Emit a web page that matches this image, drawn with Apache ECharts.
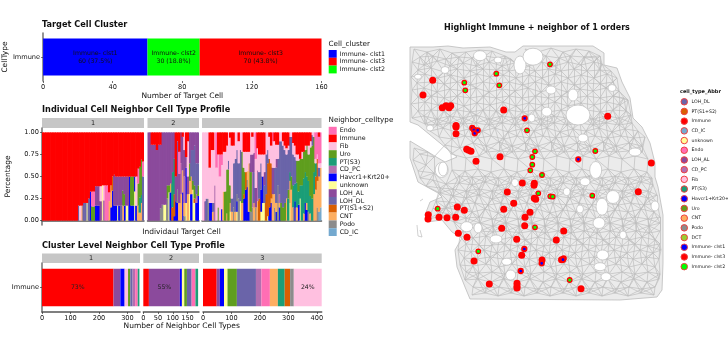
<!DOCTYPE html>
<html><head><meta charset="utf-8">
<style>html,body{margin:0;background:#fff}#c{width:728px;height:351px}</style>
<script src="https://cdn.jsdelivr.net/npm/echarts@6/dist/echarts.min.js"></script>
</head><body><div id="c"></div>
<script>
// ---------- data ----------
const clusterNames = ["Immune- clst1","Immune- clst2","Immune- clst3"];
const clusterCounts = [60,30,70];
const clusterLegend = ["Immune- clst1","Immune- clst3","Immune- clst2"];
const neighborLegend = ["Endo","Immune","Fib","Uro","PT(S3)","CD_PC","Havcr1+Krt20+","unknown","LOH_AL","LOH_DL","PT(S1+S2)","CNT","Podo","CD_IC"];
const abbrLegend = ["LOH_DL","PT(S1+S2)","Immune","CD_IC","unknown","Endo","LOH_AL","CD_PC","Fib","PT(S3)","Havcr1+Krt20+","Uro","CNT","Podo","DCT","Immune- clst1","Immune- clst3","Immune- clst2"];
const codes = {E:"Endo",I:"Immune",F:"Fib",U:"Uro",S:"PT(S3)",C:"CD_PC",H:"Havcr1+Krt20+",K:"unknown",A:"LOH_AL",D:"LOH_DL",P:"PT(S1+S2)",N:"CNT",O:"Podo",B:"CD_IC"};
const stackOrder = "IEFADUCSPNOHKB";
// percent of each neighbor type per target cell; remainder belongs to the facet's main type
const cells1 = ["","","","","","","","","","","","","","","","","","","","","",
 "D17","F17","N17","D20","D20","K20","D25","H33","U16 E17","U16 E17",
 "A22 H17","A22 H17","A22 H17","A22 F17","K40","C23 F17","E40","E40","N22 E10","N25 H15",
 "P16 H34","A35 H17","A33 H17","A33 K17","A33 H17","A33 D17","A16 U17 N17","A20 U13 H17","A33 K17","A33 K17",
 "H50","U33 H17","U33 H17","K33 H17","F33 H17","U25 E17 N17","U35 S17 N9","U40 N20 S9","D50 E17"];
const cells2 = ["","","I14","I14","I14","I20","I14","I14 O14","O18","K18",
 "K18","O25 U15","U8 K32","N10 H32","S40 P15","S40 P25 H5","I50 H22","I10 O15 H20","I22 E25 N20","C35 N30",
 "I5 H32 N25","F20 C30 N15 O5","I28 H40 K20","I10 F40 N30","U20 N15 K30","D30 H30 N20","D35 U10 K35","D45 U15 P5 K20","D35 C10 H20","D25 U12 H28"];
const cells3 = ["","C22","D25","O25","I40 H20","I20 H20","I20 D10 N10","C40","E40","I25 U15",
 "I25 E25","I25 E12 H13","I22 N33","I22 U33","I15 U50 N8","U58 D10","I6 U20 K10 N10","I15 D15 N10","I15 D50 O15","D60 N10",
 "D50 H12 K10 O8","I10 D40 O25","D58 K22","U58 N20","I22 U30 H25 P5","I22 H35 P20","I22 H38 N10 O8","I22 N55 H10","A20 U45 O10","I5 A20 C40 O15",
 "A22 D35 N20","A22 E30 O15","I18 C35 N22","I25 D30 P25","I25 D30 H25 K10","I25 H30 K20","I25 A15 D20 K20","D45 P30","D15 P60 K5","I5 H15 P55",
 "I15 H20 P40 N5","A30 E10 N30","I10 D30 N15 O15","I14 A10 D40 H10 N10","I14 D30 O40","D60 C10 H15 N5","D70 U20","I10 D70 U15","I15 D60 U20","I18 D50 N25",
 "I15 D45 S25 U10","D40 N25 K20 S10","D45 N35 U15","I12 D35 S25 O15","I15 D30 H22 S20","I25 U25 N15 S28","I25 U35 H18 S15","I30 U30 K25 S15","I22 U30 S40","I22 U30 N8 S40",
 "I15 U25 H20 S35","I15 U35 N8 H12 S30","I15 U30 S35 O10","I10 U55 N8 S20","U60 D12 S25","U40 N30 S25","E30 N35 P15 S15","E25 N30 P25 O15","E30 I5 N40 D10 B10","E35 N45 B15"];
const facetFill = ["I","A","F"];
const facetLabels = ["1","2","3"];
const bottom1 = [["I",251],["A",24],["H",15],["F",12],["U",8],["D",8],["C",9],["E",9],["S",6]];
const bottom2 = [["I",19],["A",105],["H",7],["K",8],["U",9],["D",16],["E",13],["S",9]];
const bottom3 = [["I",48],["A",11],["H",15],["K",12],["U",33],["D",67],["C",19],["E",30],["N",28],["S",24],["P",19],["O",13],["F",100]];
const bottomPct = [["I","73%"],["A","55%"],["F","24%"]];
const redDots = [[432.7,80.3],[423,95],[442.3,107.7],[446,105.7],[450.7,105.7],[449,107.7],[456,127],[456,125.5],[456,133.7],[503.7,110],[607.7,116.3],[466.7,149.3],[468.7,150.3],[471,151.3],[476,161.3],[500,156.7],[651.3,163],[522.3,183],[534.3,183.3],[534,185.3],[507.3,192],[534.3,198.3],[535.7,199.3],[638.3,191.7],[513.7,203.3],[457.3,207],[464.3,210.3],[503.7,209.3],[530,212.3],[428.3,214.7],[428,219],[439,217.3],[447,217.7],[455.7,217.3],[525,217.3],[524.7,225.7],[501.7,228.3],[563.7,231],[458.3,233.3],[467,237.3],[516.7,239.3],[556.3,240],[521.7,255.3],[474,261],[489.3,284],[517,283.3],[517,286],[517,288],[581,288.7],[542,260],[561.5,259.7]];
const greenDots = [[550,64.3],[496.3,73.7],[464.3,82.7],[465.3,90.3],[499.3,85.3],[527,130.3],[535,151.3],[532.3,157],[532.3,164.7],[595.3,151],[530.3,170.3],[542,175],[538.3,193.3],[550.3,196.3],[552.7,196.7],[592.3,195.7],[437.7,208.7],[535,227.3],[478.3,251.3],[569.7,280]];
const blueDots = [[524.7,118.3],[472.3,128],[474,130],[474.7,133.3],[477.7,130.3],[578.3,159.3],[524.3,249],[541.7,263.3],[563.7,258.3],[563,259.7],[520.7,271]];
const tissueOutline = [[410,47],[433,47],[448,46],[463,48],[490,47],[506,52],[515,52],[523,46],[560,46],[593,46],[604,53],[604,65],[617,68],[622,82],[630,98],[633,118],[642,127],[650,143],[655,163],[655,177],[658,187],[663,215],[663,263],[662,290],[657,297],[620,300],[470,299],[465,287],[457,267],[455,250],[462,238],[452,232],[442,220],[427,222],[425,215],[430,202],[442,197],[438,193],[418,182],[410,158],[410,141],[438,158],[445,162],[457,157],[418,125],[410,122]];
const holes = [[480,55.7,13,10],[520,65,12,18],[533,56.7,20,17],[546.7,111.7,10,9],[573,95,10,12],[578,115,24,20],[583,138,10,8],[635,152,12,8],[445,70,8,7],[418,76.7,7,5],[531.7,118,7,8],[441.7,170,13,15],[595.7,170,12,17],[585,181.7,10,8],[566.7,191.7,7,8],[613,197,13,13],[602,206.7,12,17],[580,209,7,8],[599,223,12,11],[655,206,8,10],[466.7,226.7,12,10],[478,228,8,10],[496,239,12,8],[623,235,7,8],[602.7,255,12,10],[506.7,261.7,10,7],[600,266.7,12,8],[510.7,275,10,10],[606,276.7,10,8],[515,182.7,7,8],[443,169,9,14],[551,90,10,8],[498,60,8,6],[612,88,8,7],[430,128,7,6]];
const meshNodes = [
414,49,427,52,440,49,452,53,466,52,479,50,492,51,505,56,525,49,538,52,551,48,563,52,576,49,589,51,600,56,
412,62,424,65,437,61,450,66,463,63,476,66,489,62,502,66,515,63,529,66,542,62,555,66,568,62,581,65,594,62,602,64,
411,77,425,74,438,78,451,75,464,78,477,74,490,77,503,75,516,78,529,75,542,78,555,74,568,78,581,75,594,78,607,74,617,78,
412,90,424,88,437,92,450,89,463,91,476,88,489,92,502,89,515,91,528,88,541,92,554,88,567,92,580,89,593,91,606,88,619,91,
411,104,425,102,438,105,451,102,464,106,477,103,490,105,503,102,516,106,529,103,542,105,555,102,568,106,581,103,594,105,607,102,620,105,628,100,
412,118,424,116,437,119,450,116,463,118,476,115,489,119,502,116,515,118,528,115,541,119,554,116,567,118,580,115,593,119,606,116,619,118,631,115,
430,131,443,128,456,132,469,129,482,131,495,128,508,132,521,129,534,131,547,128,560,132,573,129,586,131,599,128,612,132,625,129,638,131,
414,148,428,152,445,145,460,148,473,143,486,146,499,142,512,146,525,143,538,146,551,142,564,146,577,143,590,146,603,142,616,146,629,143,642,146,
466,158,479,156,492,159,505,156,518,159,531,156,544,159,557,156,570,159,583,156,596,159,609,156,622,159,635,156,648,159,
413,160,426,165,452,170,465,171,478,169,491,172,504,169,517,172,530,169,543,172,556,169,569,172,582,169,595,172,608,169,621,172,634,169,647,172,
420,178,433,180,446,184,459,183,472,185,485,182,498,186,511,183,524,185,537,182,550,186,563,183,576,185,589,182,602,186,615,183,628,185,641,182,653,185,
440,193,453,196,466,198,479,195,492,199,505,196,518,198,531,195,544,199,557,196,570,198,583,195,596,199,609,196,622,198,635,195,648,198,657,195,
433,208,446,208,459,210,472,212,485,209,498,213,511,210,524,212,537,209,550,213,563,210,576,212,589,209,602,213,615,210,628,212,641,209,654,212,
429,219,441,216,454,222,467,225,480,223,493,226,506,223,519,226,532,223,545,226,558,223,571,226,584,223,597,226,610,223,623,226,636,223,649,226,660,223,
460,236,473,238,486,236,499,240,512,237,525,240,538,237,551,240,564,237,577,240,590,237,603,240,616,237,629,240,642,237,655,240,
458,250,471,252,484,250,497,253,510,250,523,253,536,250,549,253,562,250,575,253,588,250,601,253,614,250,627,253,640,250,653,253,661,250,
460,265,473,266,486,264,499,267,512,264,525,267,538,264,551,267,564,264,577,267,590,264,603,267,616,264,629,267,642,264,655,267,
465,280,478,279,491,282,504,279,517,282,530,279,543,282,556,279,569,282,582,279,595,282,608,279,621,282,634,279,647,282,659,279,
472,295,485,293,498,296,511,293,524,296,537,293,550,296,563,293,576,296,589,293,602,296,615,293,628,296,641,293,654,295];
const meshNodesFine = [
420,57,433,56,446,59,459,57,472,58,485,56,497,58,511,59,530,57,546,56,559,58,570,56,584,57,597,58,
418,70,431,68,444,72,457,69,470,71,483,69,496,70,509,71,522,69,535,71,548,69,561,71,574,69,587,71,600,70,611,71,
417,83,431,82,444,84,457,82,470,85,483,82,496,84,509,82,522,85,535,82,548,85,561,82,574,85,587,83,600,84,613,82,
418,97,431,96,444,98,457,96,470,98,483,96,496,98,509,96,522,98,535,96,548,98,561,96,574,98,587,96,600,98,613,96,624,98,
418,111,431,110,444,111,457,110,470,112,483,110,496,111,509,110,522,112,535,110,548,112,561,110,574,112,587,110,600,112,613,110,626,111,
425,124,437,125,450,123,463,124,476,123,489,125,502,123,515,125,528,123,541,125,554,123,567,125,580,123,593,125,606,123,619,125,632,123,
439,137,452,139,465,136,478,138,491,136,504,139,517,136,530,138,543,136,556,138,569,136,582,138,595,136,608,138,621,136,634,138,645,137,
420,154,434,157,451,154,486,152,499,151,512,152,525,151,538,152,551,151,564,152,577,151,590,152,603,151,616,152,629,151,642,152,
418,171,434,173,459,176,472,177,485,176,498,178,511,176,524,178,537,176,550,178,563,176,576,178,589,176,602,178,615,176,628,178,641,176,652,178,
426,186,440,188,453,189,466,191,479,189,492,191,505,189,518,191,531,189,544,191,557,189,570,191,583,189,596,191,609,189,622,191,635,189,648,191,
436,201,449,202,462,204,475,203,488,205,501,203,514,205,527,203,540,205,553,203,566,205,579,203,592,205,605,203,618,205,631,203,644,205,657,203,
440,212,453,215,466,218,479,217,492,219,505,217,518,219,531,217,544,219,557,217,570,219,583,217,596,219,609,217,622,219,635,217,648,219,660,217,
463,231,480,231,493,232,506,231,519,233,532,231,545,233,558,231,571,233,584,231,597,233,610,231,623,233,636,231,649,233,660,231,
466,244,479,245,492,245,505,244,518,246,531,244,544,246,557,244,570,246,583,244,596,246,609,244,622,246,635,244,648,246,660,244,
464,258,477,259,490,257,503,259,516,257,529,259,542,257,555,259,568,257,581,259,594,257,607,259,620,257,633,259,646,257,659,259,
466,272,479,273,492,272,505,274,518,272,531,274,544,272,557,274,570,272,583,274,596,272,609,274,622,272,635,274,648,272,660,274,
473,287,486,288,499,287,512,289,525,287,538,289,551,287,564,289,577,287,590,289,603,287,616,289,629,287,642,289,655,287];
const strayLinks = [[417,225,418,236],[418,236,422,237],[420,230,422,237],[420,201,423,199]];

// ---------- colours ----------
const colors = {Endo:"#ff6eb4",Immune:"#ff0000",Fib:"#ffc0e0",Uro:"#5f9e1e","PT(S3)":"#1b9e77",CD_PC:"#b26fb0","Havcr1+Krt20+":"#0000ff",unknown:"#ffff99",LOH_AL:"#8b4a9c",LOH_DL:"#6a64a9","PT(S1+S2)":"#d95f02",CNT:"#fdae61",Podo:"#8c8c8c",CD_IC:"#74a9cf",DCT:"#9acd32","Immune- clst1":"#0000ff","Immune- clst2":"#00ff00","Immune- clst3":"#ff0000"};
const font = "DejaVu Sans";
const axisGray = "#7a7a7a";

// ---------- layout ----------
const midFacets = [[42,102],[147.5,51.5],[202,119.5]];
const botFacets = [[42,98,344,[0,100,200,300]],[143.3,55.7,189,[0,50,100,150]],[203,118.7,417,[0,100,200,300,400]]];
const grids=[],xAxes=[],yAxes=[],series=[],graphic=[];
const addGrid=(l,t,w,h)=>{grids.push({left:l,top:t,width:w,height:h,containLabel:false});return grids.length-1;};
const tick={show:true,length:2,lineStyle:{color:"#333",width:.7}};
const lab={fontFamily:font,fontSize:6.6,color:"#111",margin:3};

// top bar
let g=addGrid(42,33,279.5,48);
xAxes.push({gridIndex:g,type:"value",min:0,max:160,interval:40,splitLine:{show:false},axisLine:{show:false},axisTick:tick,axisLabel:lab,
  name:"Number of Target Cell",nameLocation:"middle",nameGap:10,nameTextStyle:{fontFamily:font,fontSize:7.5,color:"#111"}});
yAxes.push({gridIndex:g,type:"category",data:["Immune"],splitLine:{show:false},axisLine:{lineStyle:{color:axisGray,width:1.6}},axisTick:{...tick,alignWithLabel:true},axisLabel:lab,
  name:"CellType",nameLocation:"middle",nameGap:28,nameTextStyle:{fontFamily:font,fontSize:7.5,color:"#111"}});
clusterNames.forEach((n,i)=>series.push({type:"bar",name:n,xAxisIndex:g,yAxisIndex:g,stack:"c",barWidth:37,data:[clusterCounts[i]],
  itemStyle:{color:colors[n]},label:{show:true,position:"inside",fontFamily:font,fontSize:6.2,lineHeight:8,color:"#111",
  formatter:n+"\n"+clusterCounts[i]+" ("+(clusterCounts[i]/160*100).toFixed(1)+"%)"}}));

// individual cells
const parse=(s,fill)=>{const o={};let sum=0;s.split(" ").filter(Boolean).forEach(t=>{const v=+t.slice(1);o[t[0]]=(o[t[0]]||0)+v;sum+=v;});o[fill]=(o[fill]||0)+Math.max(0,100-sum);return o;};
[cells1,cells2,cells3].forEach((cells,fi)=>{
  const [l,w]=midFacets[fi];
  const gi=addGrid(l,128,w,97);
  xAxes.push({gridIndex:gi,type:"category",data:cells.map((_,i)=>i+1),axisLine:{show:true,lineStyle:{color:"#555",width:1.5}},axisTick:{show:false},axisLabel:{show:false}});
  yAxes.push({gridIndex:gi,type:"value",min:-0.05,max:1.05,splitLine:{show:false},
    axisLine:{show:fi===0,lineStyle:{color:axisGray,width:1.6}},
    axisTick:{...tick,show:fi===0,customValues:[0,.25,.5,.75,1]},
    axisLabel:{...lab,show:fi===0,customValues:[0,.25,.5,.75,1],formatter:v=>v.toFixed(2)},
    name:fi===0?"Percentage":"",nameLocation:"middle",nameGap:30,nameTextStyle:{fontFamily:font,fontSize:7.5,color:"#111"}});
  const parsed=cells.map(s=>parse(s,facetFill[fi]));
  stackOrder.split("").reverse().forEach(c=>{
    series.push({type:"bar",name:codes[c],xAxisIndex:gi,yAxisIndex:gi,stack:"s"+fi,barWidth:2.4,
      data:parsed.map(p=>(p[c]||0)/100),itemStyle:{color:colors[codes[c]]}});
  });
  graphic.push({type:"rect",shape:{x:l,y:118,width:w,height:10},style:{fill:"#c6c6c6"},silent:true});
  graphic.push({type:"text",style:{x:l+w/2,y:123,text:facetLabels[fi],fill:"#222",font:"6.5px "+font,textAlign:"center",textVerticalAlign:"middle"}});
});

// cluster level
[bottom1,bottom2,bottom3].forEach((segs,fi)=>{
  const [l,w,mx,ticks]=botFacets[fi];
  const gi=addGrid(l,263,w,49);
  xAxes.push({gridIndex:gi,type:"value",min:0,max:mx,splitLine:{show:false},axisLine:{show:true,lineStyle:{color:"#555",width:1.5}},
    axisTick:{...tick,customValues:ticks},axisLabel:{...lab,customValues:ticks}});
  yAxes.push({gridIndex:gi,type:"category",data:["Immune"],splitLine:{show:false},
    axisLine:{show:fi===0,lineStyle:{color:axisGray,width:1.6}},axisTick:{...tick,show:fi===0,alignWithLabel:true},axisLabel:{...lab,show:fi===0}});
  segs.forEach(([c,v])=>{
    const showPct=c===bottomPct[fi][0];
    series.push({type:"bar",name:codes[c],xAxisIndex:gi,yAxisIndex:gi,stack:"b"+fi,barWidth:37.5,data:[v],itemStyle:{color:colors[codes[c]]},
      label:{show:showPct,position:"inside",fontFamily:font,fontSize:6.2,color:"#222",formatter:bottomPct[fi][1]}});
  });
  graphic.push({type:"rect",shape:{x:l,y:253.5,width:w,height:9.5},style:{fill:"#c6c6c6"},silent:true});
  graphic.push({type:"text",style:{x:l+w/2,y:258.3,text:facetLabels[fi],fill:"#222",font:"6.5px "+font,textAlign:"center",textVerticalAlign:"middle"}});
});

// tissue map
const mg=addGrid(400,40,270,265);
xAxes.push({gridIndex:mg,type:"value",min:400,max:670,show:false});
yAxes.push({gridIndex:mg,type:"value",min:40,max:305,inverse:true,show:false});
series.push({type:"custom",xAxisIndex:mg,yAxisIndex:mg,silent:true,z:2,data:[[537,170]],clip:false,
  renderItem:(p,api)=>({type:"polygon",shape:{points:tissueOutline.map(q=>api.coord(q))},style:{fill:"#ebebeb",stroke:"#bbbbbb",lineWidth:.8}})});
const nodes=[];
[meshNodes,meshNodesFine].forEach(arr=>{for(let i=0;i<arr.length;i+=2)nodes.push([arr[i],arr[i+1]]);});
const links=[];
nodes.forEach((a,i)=>nodes.forEach((b,j)=>{if(j>i){const d=Math.hypot(a[0]-b[0],a[1]-b[1]);if(d<16.5)links.push({coords:[a,b]});}}));
strayLinks.forEach(s=>links.push({coords:[[s[0],s[1]],[s[2],s[3]]]}));
series.push({type:"lines",coordinateSystem:"cartesian2d",xAxisIndex:mg,yAxisIndex:mg,silent:true,z:3,data:links,lineStyle:{color:"#bdbdbd",width:.7,opacity:1}});
series.push({type:"scatter",xAxisIndex:mg,yAxisIndex:mg,silent:true,z:4,data:holes,symbolSize:v=>[v[2],v[3]],itemStyle:{color:"#fff",opacity:1,borderColor:"#bbb",borderWidth:.7}});
const dot=(name,data,color,size,bw)=>series.push({type:"scatter",name,xAxisIndex:mg,yAxisIndex:mg,z:5,data,symbolSize:size,itemStyle:{color,opacity:1,borderColor:"#f00",borderWidth:bw}});
dot("Immune- clst3",redDots,"#ff0000",7,0);
dot("Immune- clst2",greenDots,"#00ff00",4.5,1.3);
dot("Immune- clst1",blueDots,"#0000ff",4.5,1.8);
series.push({type:"scatter",name:"DCT",xAxisIndex:mg,yAxisIndex:mg,data:[],itemStyle:{color:colors.DCT}});

// text
const txt=(x,y,text,size,weight,align)=>graphic.push({type:"text",style:{x,y,text,fill:"#111",font:(weight?"bold ":"")+size+"px "+font,textAlign:align||"left",textVerticalAlign:"middle"}});
txt(42,25,"Target Cell Cluster",8.2,true);
txt(42,109.5,"Individual Cell Neighbor Cell Type Profile",8.2,true);
txt(42,246,"Cluster Level Neighbor Cell Type Profile",8.2,true);
txt(537,28,"Highlight Immune + neighbor of 1 orders",8,true,"center");
txt(181.5,232,"Individaul Target Cell",7.5,false,"center");
txt(181.7,326.5,"Number of Neighbor Cell Types",7.5,false,"center");
txt(328.5,44.5,"Cell_cluster",7.2,false);
txt(328.5,120,"Neighbor_celltype",7.2,false);
txt(680,92,"cell_type_Abbr",5,true);

const legendBase={orient:"vertical",selectedMode:false,icon:"rect",itemWidth:8,itemHeight:7.8,itemGap:0,padding:0,textStyle:{fontFamily:font,fontSize:6.3,lineHeight:7.8,color:"#111",padding:[0,0,0,-2]}};
const option={animation:false,backgroundColor:"#fff",grid:grids,xAxis:xAxes,yAxis:yAxes,series,graphic,
 legend:[
  {...legendBase,left:328.7,top:50,data:clusterLegend.map(name=>({name,itemStyle:{color:colors[name],borderWidth:0,opacity:1}}))},
  {...legendBase,left:328.7,top:126.8,data:neighborLegend.map(name=>({name,itemStyle:{color:colors[name],borderWidth:0}}))},
  {...legendBase,left:680.5,top:98,icon:"circle",itemWidth:6.5,itemHeight:6.5,itemGap:2.2,textStyle:{fontFamily:font,fontSize:4.7,lineHeight:6,color:"#222",padding:[0,0,0,-1]},
   data:abbrLegend.map(name=>({name,icon:"circle",itemStyle:{color:colors[name],borderColor:"#f04040",borderWidth:1,opacity:1}}))}
 ]};
echarts.init(document.getElementById("c")).setOption(option);
</script></body></html>
